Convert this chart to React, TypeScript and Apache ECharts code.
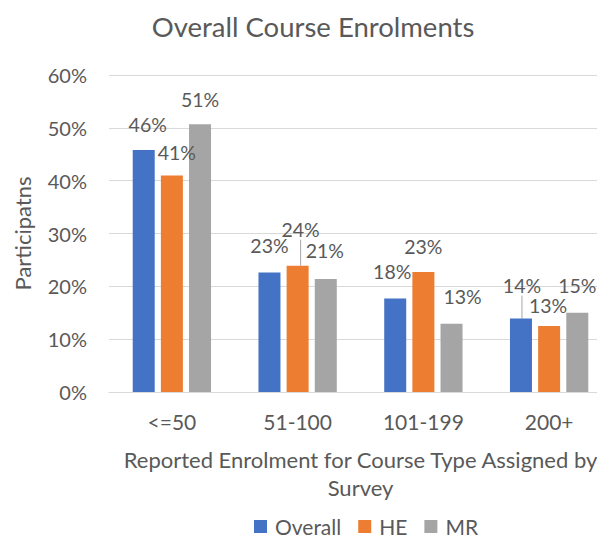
import React, { useEffect, useRef } from "react";
import * as echarts from "echarts";

const categories = ["<=50", "51-100", "101-199", "200+"];
const overall = [45.8, 22.6, 17.7, 13.9];
const he = [41.0, 23.9, 22.7, 12.5];
const mr = [50.7, 21.4, 12.9, 15.0];
const yTicks = [0, 10, 20, 30, 40, 50, 60];

// label nudges [dx, dy] per series, per category (style only)
const labelNudges = [
  [[4, -11], [0, -12], [-3, -12], [1, -18]],
  [[5, -8], [3, -21], [0, -11], [-1, -5]],
  [[0, -10], [-1, -13], [11, -12], [0, -12]],
];
const leaderLines = [
  [false, false, false, true],
  [false, true, false, false],
  [false, false, false, false],
];

const FONT = "Lato";
const TXT = "#595959";

export default function App() {
  const ref = useRef<HTMLDivElement>(null);
  useEffect(() => {
    if (!ref.current) return;
    const chart = echarts.init(ref.current, undefined, { renderer: "svg" });
    const names = ["Overall", "HE", "MR"];
    const colors = ["#4472C4", "#ED7D31", "#A5A5A5"];
    const sets = [overall, he, mr];
    chart.setOption({
      animation: false,
      textStyle: { fontFamily: FONT, color: TXT },
      title: {
        text: "Overall Course Enrolments",
        left: 308,
        top: 7,
        textAlign: "center",
        textStyle: { fontFamily: FONT, fontSize: 27.5, fontWeight: "normal", color: TXT },
      },
      legend: {
        left: 249,
        top: 511,
        itemWidth: 13,
        itemHeight: 13,
        itemGap: 17,
        icon: "rect",
        textStyle: { fontFamily: FONT, fontSize: 21, color: TXT, padding: [0, 0, 0, 3] },
        data: names,
      },
      grid: { left: 109, right: 8, top: 75, bottom: 147 },
      xAxis: {
        type: "category",
        data: categories,
        axisTick: { show: false },
        axisLine: { lineStyle: { color: "#D9D9D9", width: 1 } },
        axisLabel: { fontFamily: FONT, fontSize: 21, color: TXT, margin: 19 },
        name: "Reported Enrolment for Course Type Assigned by\nSurvey",
        nameLocation: "middle",
        nameGap: 53,
        nameTextStyle: { fontFamily: FONT, fontSize: 22, color: TXT, lineHeight: 28 },
      },
      yAxis: {
        type: "value",
        min: yTicks[0],
        max: yTicks[yTicks.length - 1],
        interval: 10,
        axisLabel: {
          fontFamily: FONT,
          fontSize: 20,
          color: TXT,
          margin: 22,
          formatter: (v: number) => `${v}%`,
        },
        splitLine: { lineStyle: { color: "#D9D9D9", width: 1 } },
        axisLine: { show: false },
        axisTick: { show: false },
        name: "Participatns",
        nameLocation: "middle",
        nameGap: 76,
        nameTextStyle: { fontFamily: FONT, fontSize: 22, color: TXT },
      },
      series: sets.map((vals, si) => ({
        type: "bar",
        name: names[si],
        barWidth: 22,
        barGap: "28%",
        itemStyle: { color: colors[si] },
        data: vals.map((v, ci) => ({
          value: v,
          labelLine: { show: leaderLines[si][ci], lineStyle: { color: "#A6A6A6", width: 1 }, length2: 0 },
        })),
        label: {
          show: true,
          position: "top",
          distance: 5,
          fontFamily: FONT,
          fontSize: 19.5,
          color: TXT,
          formatter: (p: any) => `${Math.round(p.value)}%`,
        },
        labelLayout: (p: any) => {
          const n = labelNudges[si][p.dataIndex];
          return { dx: n[0], dy: n[1] };
        },
      })),
    });
    return () => chart.dispose();
  }, []);
  return (
    <div
      ref={ref}
      style={{ position: "fixed", left: 0, top: 0, width: 620, height: 539, background: "#fff" }}
    />
  );
}
